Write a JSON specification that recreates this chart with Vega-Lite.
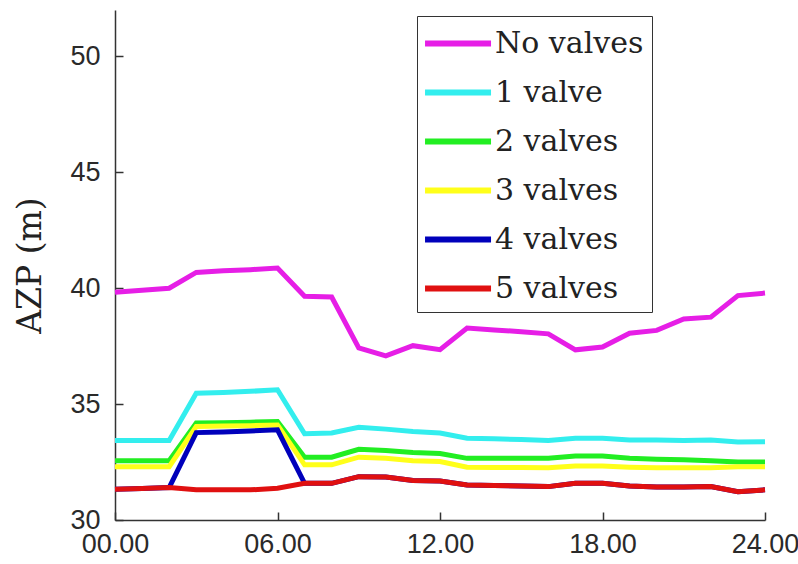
{
  "$schema": "https://vega.github.io/schema/vega-lite/v6.json",
  "autosize": "none",
  "width": 650,
  "height": 510,
  "padding": {"left": 115, "top": 10, "right": 33, "bottom": 44},
  "background": "white",
  "config": {
    "view": {"stroke": null},
    "axis": {
      "grid": false,
      "domainColor": "#333333",
      "domainWidth": 1.5,
      "tickColor": "#333333",
      "tickWidth": 1.5,
      "tickSize": -8,
      "labelFont": "Liberation Sans",
      "labelFontSize": 27,
      "labelColor": "#2a2a2a"
    }
  },
  "data": {
    "values": [
      {"t": 0, "No valves": 39.82, "1 valve": 33.43, "2 valves": 32.56, "3 valves": 32.30, "4 valves": 31.33, "5 valves": 31.33},
      {"t": 1, "No valves": 39.91, "1 valve": 33.43, "2 valves": 32.56, "3 valves": 32.30, "4 valves": 31.36, "5 valves": 31.36},
      {"t": 2, "No valves": 40.00, "1 valve": 33.43, "2 valves": 32.56, "3 valves": 32.30, "4 valves": 31.40, "5 valves": 31.40},
      {"t": 3, "No valves": 40.68, "1 valve": 35.47, "2 valves": 34.18, "3 valves": 34.03, "4 valves": 33.77, "5 valves": 31.30},
      {"t": 4, "No valves": 40.75, "1 valve": 35.50, "2 valves": 34.20, "3 valves": 34.05, "4 valves": 33.80, "5 valves": 31.30},
      {"t": 5, "No valves": 40.80, "1 valve": 35.55, "2 valves": 34.22, "3 valves": 34.07, "4 valves": 33.84, "5 valves": 31.30},
      {"t": 6, "No valves": 40.87, "1 valve": 35.62, "2 valves": 34.25, "3 valves": 34.10, "4 valves": 33.89, "5 valves": 31.37},
      {"t": 7, "No valves": 39.65, "1 valve": 33.72, "2 valves": 32.71, "3 valves": 32.38, "4 valves": 31.58, "5 valves": 31.58},
      {"t": 8, "No valves": 39.62, "1 valve": 33.75, "2 valves": 32.71, "3 valves": 32.38, "4 valves": 31.58, "5 valves": 31.58},
      {"t": 9, "No valves": 37.42, "1 valve": 34.00, "2 valves": 33.05, "3 valves": 32.71, "4 valves": 31.87, "5 valves": 31.87},
      {"t": 10, "No valves": 37.08, "1 valve": 33.92, "2 valves": 33.00, "3 valves": 32.66, "4 valves": 31.85, "5 valves": 31.85},
      {"t": 11, "No valves": 37.52, "1 valve": 33.82, "2 valves": 32.91, "3 valves": 32.56, "4 valves": 31.70, "5 valves": 31.70},
      {"t": 12, "No valves": 37.35, "1 valve": 33.75, "2 valves": 32.87, "3 valves": 32.52, "4 valves": 31.68, "5 valves": 31.68},
      {"t": 13, "No valves": 38.28, "1 valve": 33.53, "2 valves": 32.66, "3 valves": 32.28, "4 valves": 31.51, "5 valves": 31.51},
      {"t": 14, "No valves": 38.20, "1 valve": 33.50, "2 valves": 32.66, "3 valves": 32.27, "4 valves": 31.49, "5 valves": 31.49},
      {"t": 15, "No valves": 38.12, "1 valve": 33.47, "2 valves": 32.66, "3 valves": 32.26, "4 valves": 31.47, "5 valves": 31.47},
      {"t": 16, "No valves": 38.03, "1 valve": 33.43, "2 valves": 32.66, "3 valves": 32.25, "4 valves": 31.44, "5 valves": 31.44},
      {"t": 17, "No valves": 37.34, "1 valve": 33.53, "2 valves": 32.76, "3 valves": 32.33, "4 valves": 31.58, "5 valves": 31.58},
      {"t": 18, "No valves": 37.46, "1 valve": 33.53, "2 valves": 32.76, "3 valves": 32.33, "4 valves": 31.58, "5 valves": 31.58},
      {"t": 19, "No valves": 38.06, "1 valve": 33.45, "2 valves": 32.66, "3 valves": 32.28, "4 valves": 31.47, "5 valves": 31.47},
      {"t": 20, "No valves": 38.18, "1 valve": 33.45, "2 valves": 32.62, "3 valves": 32.25, "4 valves": 31.42, "5 valves": 31.42},
      {"t": 21, "No valves": 38.67, "1 valve": 33.43, "2 valves": 32.60, "3 valves": 32.25, "4 valves": 31.42, "5 valves": 31.42},
      {"t": 22, "No valves": 38.75, "1 valve": 33.45, "2 valves": 32.56, "3 valves": 32.25, "4 valves": 31.44, "5 valves": 31.44},
      {"t": 23, "No valves": 39.68, "1 valve": 33.36, "2 valves": 32.50, "3 valves": 32.30, "4 valves": 31.22, "5 valves": 31.22},
      {"t": 24, "No valves": 39.79, "1 valve": 33.38, "2 valves": 32.50, "3 valves": 32.30, "4 valves": 31.30, "5 valves": 31.30}
    ]
  },
  "transform": [
    {"fold": ["No valves", "1 valve", "2 valves", "3 valves", "4 valves", "5 valves"], "as": ["series", "azp"]}
  ],
  "mark": {"type": "line", "strokeWidth": 5, "strokeJoin": "miter"},
  "encoding": {
    "x": {
      "field": "t",
      "type": "quantitative",
      "scale": {"domain": [0, 24], "nice": false, "zero": false},
      "axis": {"values": [0, 6, 12, 18, 24], "format": "05.2f", "title": null, "labelPadding": 19, "labelFlush": false}
    },
    "y": {
      "field": "azp",
      "type": "quantitative",
      "scale": {"domain": [30, 52], "nice": false, "zero": false},
      "axis": {
        "values": [30, 35, 40, 45, 50],
        "title": "AZP (m)",
        "titleFont": "DejaVu Serif",
        "titleFontSize": 33,
        "titleFontWeight": "normal",
        "titleColor": "#222222",
        "titlePadding": 22,
        "labelPadding": 23
      }
    },
    "color": {
      "field": "series",
      "type": "nominal",
      "sort": ["No valves", "1 valve", "2 valves", "3 valves", "4 valves", "5 valves"],
      "scale": {
        "domain": ["No valves", "1 valve", "2 valves", "3 valves", "4 valves", "5 valves"],
        "range": ["#e61ee6", "#33eeee", "#22ee22", "#ffff1a", "#0000bb", "#e01010"]
      },
      "legend": {
        "title": null,
        "orient": "none",
        "legendX": 302,
        "legendY": 6,
        "symbolType": "M-1.18,0H2.82",
        "symbolSize": 1089,
        "symbolStrokeWidth": 6,
        "labelFont": "DejaVu Serif",
        "labelFontSize": 30,
        "labelColor": "#222222",
        "labelOffset": 31,
        "labelExpr": "datum.label + '\u00a0\u00a0'",
        "fillColor": "white",
        "strokeColor": "#333333",
        "padding": 8,
        "rowPadding": 14,
        "labelLimit": 400
      }
    }
  }
}
